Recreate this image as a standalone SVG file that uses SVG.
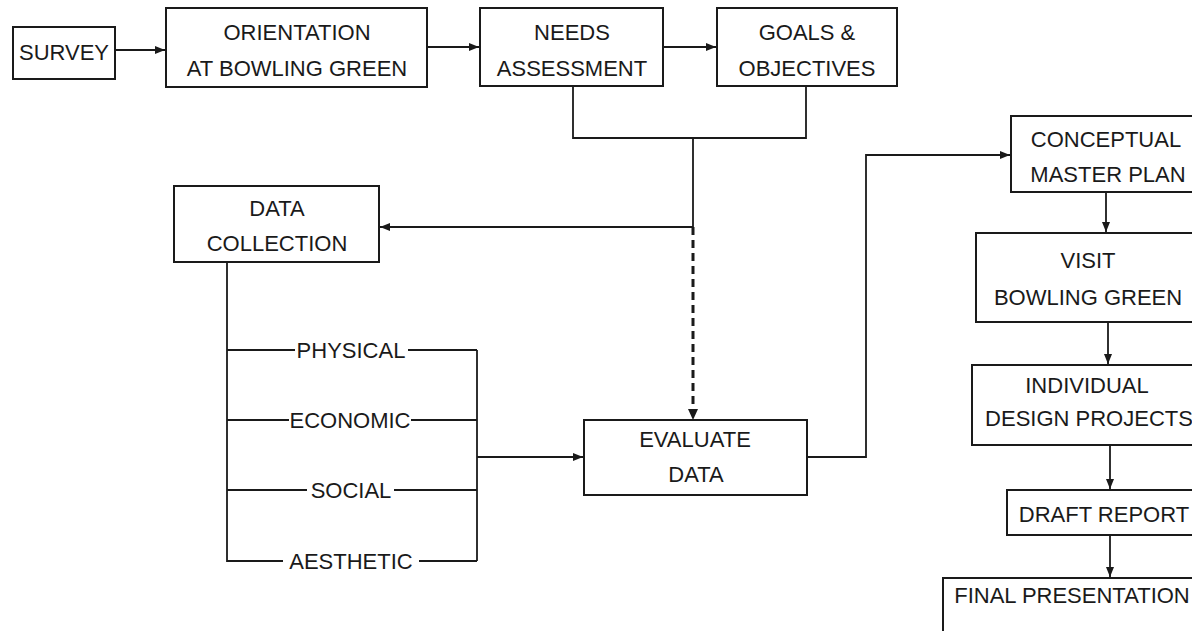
<svg xmlns="http://www.w3.org/2000/svg" width="1192" height="631" viewBox="0 0 1192 631">
<style>
.box{fill:#fff;stroke:#1a1a1a;stroke-width:2}
.t{font-family:"Liberation Sans",Arial,sans-serif;font-size:22px;fill:#1a1a1a;text-anchor:middle}
.c{fill:none;stroke:#1a1a1a;stroke-width:1.8}
.d{fill:none;stroke:#1a1a1a;stroke-width:3;stroke-dasharray:8,5}
</style>
<defs>
<marker id="ah" viewBox="0 0 10 10" refX="10" refY="5" markerWidth="10" markerHeight="10" markerUnits="userSpaceOnUse" orient="auto">
<path d="M0,1 L10,5 L0,9 z" fill="#1a1a1a"/>
</marker>
</defs>
<rect width="1192" height="631" fill="#fff"/>
<g id="connectors">
<line class="c" x1="115" y1="50" x2="165" y2="50" marker-end="url(#ah)"/>
<line class="c" x1="427" y1="47" x2="479" y2="47" marker-end="url(#ah)"/>
<line class="c" x1="663" y1="47" x2="716" y2="47" marker-end="url(#ah)"/>
<polyline class="c" points="573,86 573,138 806,138 806,86"/>
<polyline class="c" points="693,138 693,227 380,227" marker-end="url(#ah)"/>
<line class="d" x1="693" y1="227" x2="693" y2="410"/>
<path d="M688,409 L693,420 L698,409 z" fill="#1a1a1a"/>
<polyline class="c" points="227,262 227,561 283,561"/>
<line class="c" x1="227" y1="350" x2="295" y2="350"/>
<line class="c" x1="227" y1="420" x2="289" y2="420"/>
<line class="c" x1="227" y1="490" x2="307" y2="490"/>
<line class="c" x1="408" y1="350" x2="477" y2="350"/>
<line class="c" x1="411" y1="420" x2="477" y2="420"/>
<line class="c" x1="394" y1="490" x2="477" y2="490"/>
<line class="c" x1="419" y1="561" x2="477" y2="561"/>
<line class="c" x1="477" y1="350" x2="477" y2="561"/>
<line class="c" x1="477" y1="457" x2="583" y2="457" marker-end="url(#ah)"/>
<polyline class="c" points="807,457 866,457 866,155 1010,155" marker-end="url(#ah)"/>
<line class="c" x1="1106" y1="192" x2="1106" y2="232" marker-end="url(#ah)"/>
<line class="c" x1="1108" y1="322" x2="1108" y2="364" marker-end="url(#ah)"/>
<line class="c" x1="1110" y1="445" x2="1110" y2="489" marker-end="url(#ah)"/>
<line class="c" x1="1110" y1="535" x2="1110" y2="577" marker-end="url(#ah)"/>
</g>
<g id="survey"><rect class="box" x="13" y="27" width="102" height="52"/><text class="t" x="64" y="60">SURVEY</text></g>
<g id="orientation"><rect class="box" x="166" y="8" width="261" height="79"/><text class="t" x="297" y="40">ORIENTATION</text><text class="t" x="297" y="76">AT BOWLING GREEN</text></g>
<g id="needs"><rect class="box" x="480" y="8" width="183" height="78"/><text class="t" x="572" y="40">NEEDS</text><text class="t" x="572" y="76">ASSESSMENT</text></g>
<g id="goals"><rect class="box" x="717" y="8" width="180" height="78"/><text class="t" x="807" y="40">GOALS &amp;</text><text class="t" x="807" y="76">OBJECTIVES</text></g>
<g id="datacollection"><rect class="box" x="174" y="186" width="205" height="76"/><text class="t" x="277" y="216">DATA</text><text class="t" x="277" y="251">COLLECTION</text></g>
<g id="physical"><text class="t" x="351" y="358">PHYSICAL</text></g>
<g id="economic"><text class="t" x="350" y="428">ECONOMIC</text></g>
<g id="social"><text class="t" x="351" y="498">SOCIAL</text></g>
<g id="aesthetic"><text class="t" x="351" y="569">AESTHETIC</text></g>
<g id="evaluate"><rect class="box" x="584" y="420" width="223" height="75"/><text class="t" x="695" y="447">EVALUATE</text><text class="t" x="696" y="482">DATA</text></g>
<g id="conceptual"><rect class="box" x="1011" y="116" width="191" height="76"/><text class="t" x="1106" y="147">CONCEPTUAL</text><text class="t" x="1108" y="182">MASTER PLAN</text></g>
<g id="visit"><rect class="box" x="976" y="233" width="226" height="89"/><text class="t" x="1088" y="268">VISIT</text><text class="t" x="1088" y="305">BOWLING GREEN</text></g>
<g id="individual"><rect class="box" x="972" y="365" width="230" height="80"/><text class="t" x="1087" y="393">INDIVIDUAL</text><text class="t" x="1089" y="426">DESIGN PROJECTS</text></g>
<g id="draft"><rect class="box" x="1007" y="490" width="195" height="45"/><text class="t" x="1104" y="522">DRAFT REPORT</text></g>
<g id="final"><rect class="box" x="943" y="578" width="259" height="60"/><text class="t" x="1072" y="603">FINAL PRESENTATION</text></g>
</svg>
